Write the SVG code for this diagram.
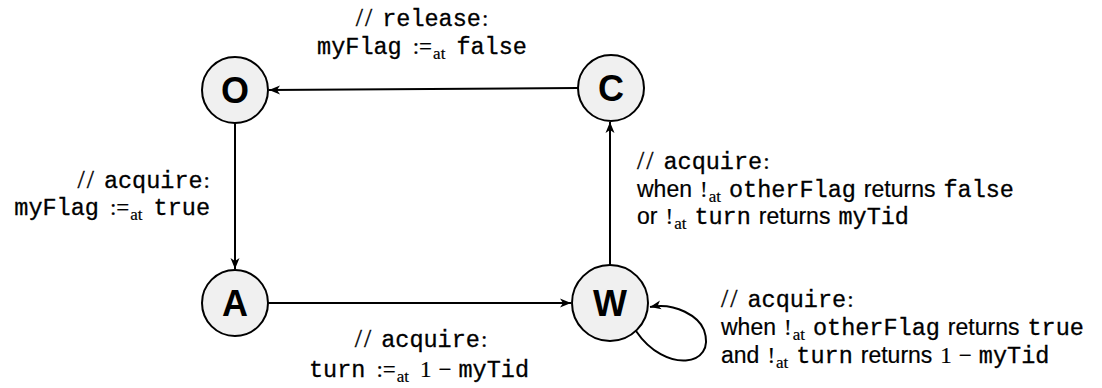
<svg xmlns="http://www.w3.org/2000/svg" width="1102" height="388" viewBox="0 0 1102 388">
<defs>
<style>
.node circle{fill:#f0f0f0;stroke:#000;stroke-width:2}
.node text{font-family:"Liberation Sans",Arial,sans-serif;font-weight:bold;font-size:36px;text-anchor:middle;fill:#000}
.edge{fill:none;stroke:#000;stroke-width:2}
.lbl text{fill:#000}
.s{font-family:"Liberation Sans",Arial,sans-serif;font-size:23px;stroke:#000;stroke-width:0.2px}
.m{font-family:"Liberation Mono","Courier New",monospace;font-size:23.5px;stroke:#000;stroke-width:0.3px}
.r{font-family:"Liberation Serif","Times New Roman",serif;font-size:23px;stroke:#000;stroke-width:0.2px}
.sl{font-family:"Liberation Serif","Times New Roman",serif;font-size:26px;letter-spacing:2px;stroke:#000;stroke-width:0.3px}
.sub{font-family:"Liberation Serif","Times New Roman",serif;font-size:17px;stroke:#000;stroke-width:0.2px}
</style>
<marker id="arr" viewBox="-12 -6 13 12" refX="0" refY="0" markerWidth="13" markerHeight="12" markerUnits="userSpaceOnUse" orient="auto">
<path d="M0,0 L-11,-4.5 L-8,0 L-11,4.5 Z" fill="#000"/>
</marker>
</defs>
<rect width="1102" height="388" fill="#fff"/>
<g id="connectors">
<path class="edge" d="M578,88 L269,90" marker-end="url(#arr)"/>
<path class="edge" d="M235,123 L235,269" marker-end="url(#arr)"/>
<path class="edge" d="M268,303 L571,303" marker-end="url(#arr)"/>
<path class="edge" d="M610,265 L610,122" marker-end="url(#arr)"/>
<path class="edge" d="M636,331 C665,374 717,367 704,330 C699,317 676,302 650,307" marker-end="url(#arr)"/>
</g>
<g id="node-O" class="node"><circle cx="235" cy="90" r="33"/><text x="235" y="103">O</text></g>
<g id="node-C" class="node"><circle cx="611" cy="88" r="33"/><text x="611" y="101">C</text></g>
<g id="node-A" class="node"><circle cx="235" cy="303" r="33"/><text x="235" y="316">A</text></g>
<g id="node-W" class="node"><circle cx="610" cy="303" r="38"/><text x="610" y="316">W</text></g>
<g id="labels" class="lbl">
<text x="422" y="26" text-anchor="middle"><tspan class="sl">//</tspan><tspan class="m" dx="8">release</tspan><tspan class="r" dx="1">:</tspan></text>
<text x="422" y="54" text-anchor="middle"><tspan class="m">myFlag</tspan><tspan class="r" dx="11">:=</tspan><tspan class="sub" dx="1" dy="5">at</tspan><tspan class="m" dx="11" dy="-5">false</tspan></text>

<text x="210" y="188" text-anchor="end"><tspan class="sl">//</tspan><tspan class="m" dx="8">acquire</tspan><tspan class="r" dx="1">:</tspan></text>
<text x="210" y="215" text-anchor="end"><tspan class="m">myFlag</tspan><tspan class="r" dx="11">:=</tspan><tspan class="sub" dx="1" dy="5">at</tspan><tspan class="m" dx="11" dy="-5">true</tspan></text>

<text x="637" y="169"><tspan class="sl">//</tspan><tspan class="m" dx="8">acquire</tspan><tspan class="r" dx="1">:</tspan></text>
<text x="637" y="197"><tspan class="s">when</tspan><tspan class="r" dx="8">!</tspan><tspan class="sub" dx="1" dy="5">at</tspan><tspan class="m" dx="8" dy="-5">otherFlag</tspan><tspan class="s" dx="8">returns</tspan><tspan class="m" dx="8">false</tspan></text>
<text x="637" y="224"><tspan class="s">or</tspan><tspan class="r" dx="8">!</tspan><tspan class="sub" dx="1" dy="5">at</tspan><tspan class="m" dx="8" dy="-5">turn</tspan><tspan class="s" dx="8">returns</tspan><tspan class="m" dx="8">myTid</tspan></text>

<text x="421" y="347" text-anchor="middle"><tspan class="sl">//</tspan><tspan class="m" dx="8">acquire</tspan><tspan class="r" dx="1">:</tspan></text>
<text x="419" y="377" text-anchor="middle"><tspan class="m">turn</tspan><tspan class="r" dx="11">:=</tspan><tspan class="sub" dx="1" dy="5">at</tspan><tspan class="r" dx="11" dy="-5">1</tspan><tspan class="r" dx="7">−</tspan><tspan class="m" dx="7">myTid</tspan></text>

<text x="721" y="307"><tspan class="sl">//</tspan><tspan class="m" dx="8">acquire</tspan><tspan class="r" dx="1">:</tspan></text>
<text x="721" y="335"><tspan class="s">when</tspan><tspan class="r" dx="8">!</tspan><tspan class="sub" dx="1" dy="5">at</tspan><tspan class="m" dx="8" dy="-5">otherFlag</tspan><tspan class="s" dx="8">returns</tspan><tspan class="m" dx="8">true</tspan></text>
<text x="721" y="363"><tspan class="s">and</tspan><tspan class="r" dx="8">!</tspan><tspan class="sub" dx="1" dy="5">at</tspan><tspan class="m" dx="8" dy="-5">turn</tspan><tspan class="s" dx="8">returns</tspan><tspan class="r" dx="8">1</tspan><tspan class="r" dx="7">−</tspan><tspan class="m" dx="7">myTid</tspan></text>
</g>
</svg>
